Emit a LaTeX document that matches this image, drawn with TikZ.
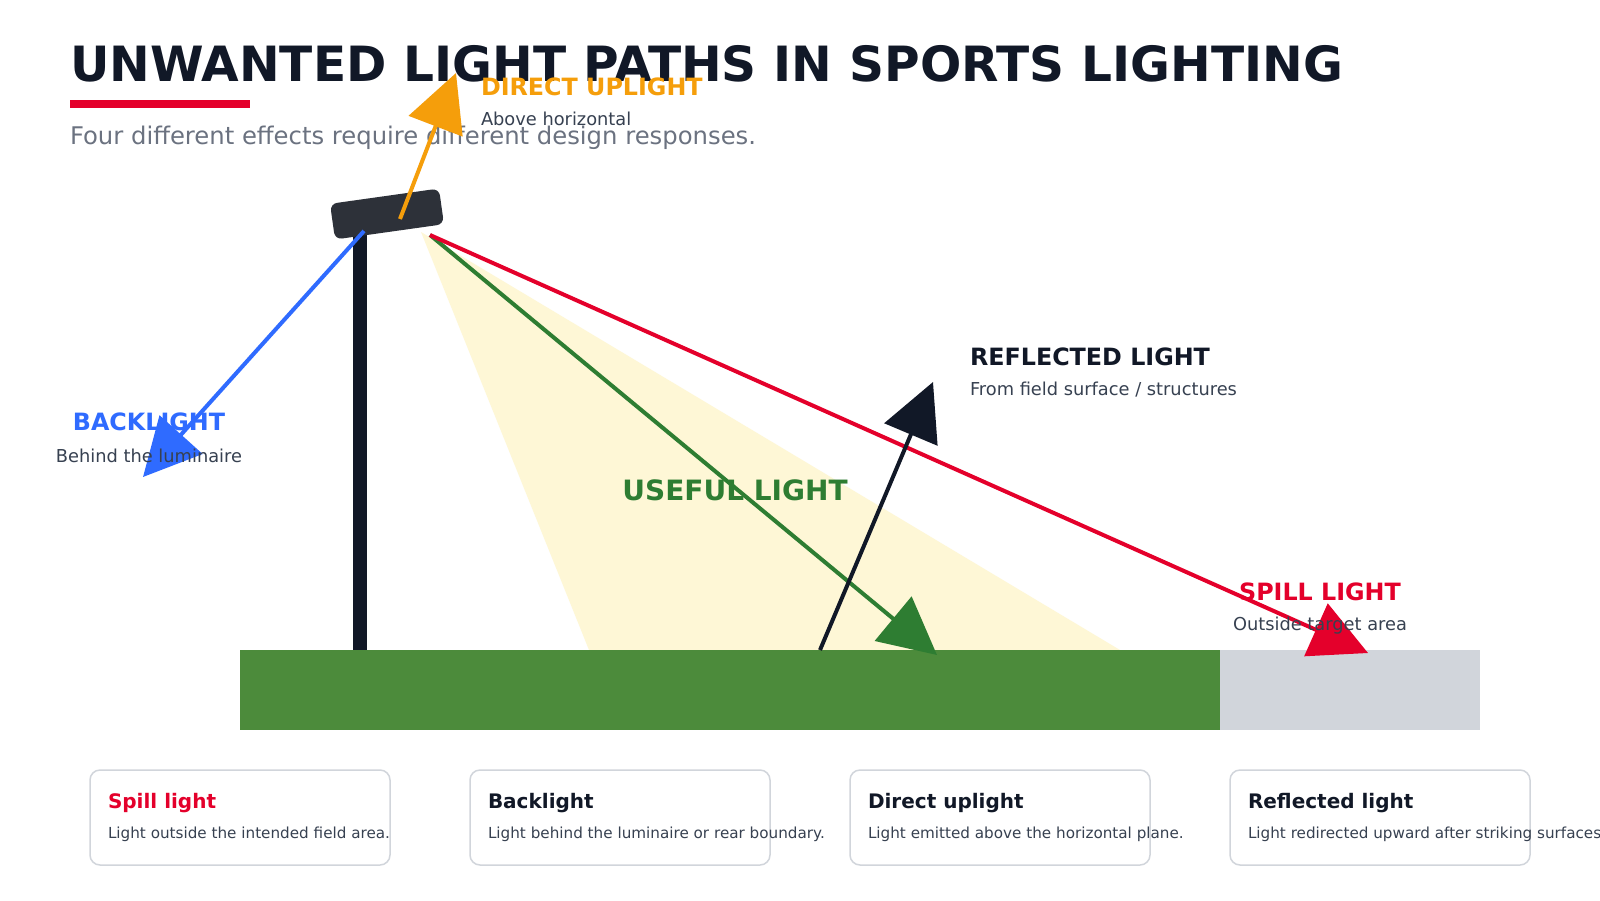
\documentclass[tikz,border=0pt]{standalone}
\usepackage{fontspec}
\setmainfont{DejaVu Sans}
\usetikzlibrary{arrows.meta}
\definecolor{ink}{HTML}{111827}
\definecolor{accent}{HTML}{E4002B}
\definecolor{subgray}{HTML}{6B7280}
\definecolor{labelgray}{HTML}{374151}
\definecolor{uporange}{HTML}{F59E0B}
\definecolor{backblue}{HTML}{2F6BFF}
\definecolor{usegreen}{HTML}{2E7D32}
\definecolor{fieldgreen}{HTML}{4C8B3B}
\definecolor{offgray}{HTML}{D1D5DB}
\definecolor{lumdark}{HTML}{2D3139}
\definecolor{conefill}{HTML}{FEF7D6}
\definecolor{cardline}{HTML}{D1D5DB}
\newcommand\pxs[1]{\fontsize{#1}{#1}\selectfont}
\begin{document}
\begin{tikzpicture}[x=1pt,y=-1pt,
  txt/.style={inner sep=0pt, outer sep=0pt},
  ray/.style={line width=4pt, -{Triangle[length=57pt,width=57pt]}},
  card/.style={draw=cardline, line width=1.5pt, fill=white, rounded corners=10pt},
  cardtitle/.style={txt, anchor=base west, font=\bfseries\pxs{20}},
  carddesc/.style={txt, anchor=base west, text=labelgray, font=\pxs{15.2}},
  biglabel/.style={txt, font=\bfseries\pxs{23.8}},
  smalllabel/.style={txt, text=labelgray, font=\pxs{17.8}}]
\useasboundingbox (0,0) rectangle (1600,900);
\clip (0,0) rectangle (1600,900);
\fill[white] (0,0) rectangle (1600,900);

% header
\node[txt, anchor=base west, text=ink, font=\bfseries\pxs{48.6}] (title) at (70,81) {UNWANTED LIGHT PATHS IN SPORTS LIGHTING};
\fill[accent] (70,100) rectangle (250,108);
\node[txt, anchor=base west, text=subgray, font=\pxs{24.3}] (subtitle) at (70,144) {Four different effects require different design responses.};

% scene
\fill[conefill] (421,232) -- (589,650) -- (1120,650) -- cycle;
\fill[fieldgreen] (240,650) rectangle (1220,730);
\fill[offgray] (1220,650) rectangle (1480,730);
\fill[ink] (353,225) rectangle (367,650);
\node[fill=lumdark, rounded corners=7pt, minimum width=110pt, minimum height=36pt, inner sep=0pt, rotate=8] (lum) at (387,214) {};

\coordinate (oS) at (400,219);
\coordinate (oE) at (456,73);
\coordinate (bS) at (364,231);
\coordinate (bE) at (143,477);
\coordinate (gS) at (430,235);
\coordinate (gE) at (937,655);
\coordinate (rE) at (1368,653);
\coordinate (fS) at (820,650);
\coordinate (fE) at (933,382);

\draw[ray, uporange] (oS) -- (oE);
\draw[ray, backblue] (bS) -- (bE);
\draw[ray, usegreen] (gS) -- (gE);
\draw[ray, accent] (gS) -- (rE);
\draw[ray, ink] (fS) -- (fE);

% labels
\node[biglabel, anchor=base west, text=uporange] (upL) at (481,95) {DIRECT UPLIGHT};
\node[smalllabel, anchor=base west] (upS) at (481,125) {Above horizontal};
\node[biglabel, anchor=base, text=backblue] (backL) at (149,430) {BACKLIGHT};
\node[smalllabel, anchor=base] (backS) at (149,462) {Behind the luminaire};
\node[txt, anchor=base, text=usegreen, font=\bfseries\pxs{28}] (useL) at (735,500) {USEFUL LIGHT};
\node[biglabel, anchor=base west, text=ink] (refL) at (970,365) {REFLECTED LIGHT};
\node[smalllabel, anchor=base west] (refS) at (970,395) {From field surface / structures};
\node[biglabel, anchor=base, text=accent] (spillL) at (1320,600) {SPILL LIGHT};
\node[smalllabel, anchor=base] (spillS) at (1320,630) {Outside target area};

% cards
\draw[card] (90,770) rectangle (390,865);
\draw[card] (470,770) rectangle (770,865);
\draw[card] (850,770) rectangle (1150,865);
\draw[card] (1230,770) rectangle (1530,865);
\node[cardtitle, text=accent] (c1t) at (108,808) {Spill light};
\node[carddesc] (c1d) at (108,838) {Light outside the intended field area.};
\node[cardtitle, text=ink] (c2t) at (488,808) {Backlight};
\node[carddesc] (c2d) at (488,838) {Light behind the luminaire or rear boundary.};
\node[cardtitle, text=ink] (c3t) at (868,808) {Direct uplight};
\node[carddesc] (c3d) at (868,838) {Light emitted above the horizontal plane.};
\node[cardtitle, text=ink] (c4t) at (1248,808) {Reflected light};
\node[carddesc] (c4d) at (1248,838) {Light redirected upward after striking surfaces.};
\end{tikzpicture}
\end{document}
